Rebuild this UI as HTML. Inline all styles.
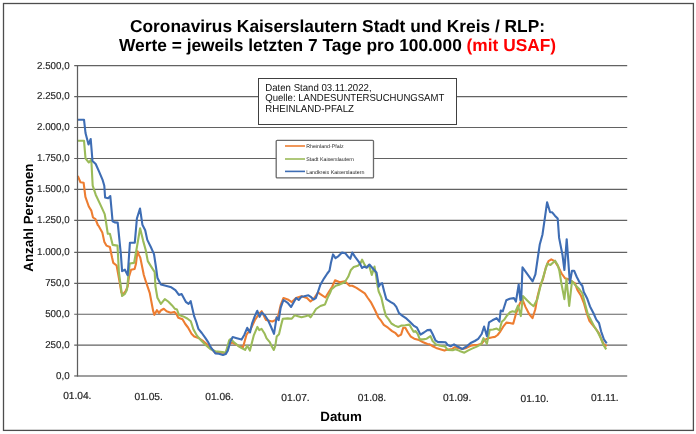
<!DOCTYPE html>
<html><head><meta charset="utf-8"><title>Coronavirus Kaiserslautern</title>
<style>
html,body{margin:0;padding:0;background:#fff;}
body{width:696px;height:434px;overflow:hidden;}
svg{display:block;will-change:transform;}
text{font-family:"Liberation Sans",Arial,sans-serif;text-rendering:geometricPrecision;}
.t{font-size:17.33px;font-weight:bold;fill:#000;text-anchor:middle;}
.yl{font-size:10px;fill:#1e1e1e;stroke:#1e1e1e;stroke-width:0.15px;text-anchor:end;}
.xl{font-size:10.2px;fill:#222;stroke:#222;stroke-width:0.2px;text-anchor:middle;}
.g{stroke:#626262;stroke-width:1.2;}
.ax{font-size:13.33px;font-weight:bold;fill:#000;}
.info{font-size:10.1px;fill:#111;}
.lg{font-size:5.3px;fill:#262626;}
.s{fill:none;stroke-width:2.1;stroke-linejoin:round;stroke-linecap:butt;}
</style></head>
<body>
<svg width="696" height="434" viewBox="0 0 696 434">
<rect x="0" y="0" width="696" height="434" fill="#fff"/>
<rect x="3.5" y="3.5" width="689.9" height="426.9" fill="none" stroke="#4d4d4d" stroke-width="1.3"/>
<text x="337.5" y="31.8" class="t">Coronavirus Kaiserslautern Stadt und Kreis / RLP:</text>
<text x="337.6" y="50.9" class="t">Werte = jeweils letzten 7 Tage pro 100.000 <tspan fill="#ff0000">(mit USAF)</tspan></text>
<line x1="74.2" y1="65.67" x2="627.2" y2="65.67" class="g"/>
<text x="69.6" y="68.62" class="yl" textLength="32.6" lengthAdjust="spacingAndGlyphs">2.500,0</text>
<line x1="74.2" y1="96.54" x2="627.2" y2="96.54" class="g"/>
<text x="69.6" y="99.49" class="yl" textLength="32.6" lengthAdjust="spacingAndGlyphs">2.250,0</text>
<line x1="74.2" y1="127.50" x2="627.2" y2="127.50" class="g"/>
<text x="69.6" y="130.45" class="yl" textLength="32.6" lengthAdjust="spacingAndGlyphs">2.000,0</text>
<line x1="74.2" y1="158.50" x2="627.2" y2="158.50" class="g"/>
<text x="69.6" y="161.45" class="yl" textLength="32.6" lengthAdjust="spacingAndGlyphs">1.750,0</text>
<line x1="74.2" y1="189.43" x2="627.2" y2="189.43" class="g"/>
<text x="69.6" y="192.38" class="yl" textLength="32.6" lengthAdjust="spacingAndGlyphs">1.500,0</text>
<line x1="74.2" y1="220.43" x2="627.2" y2="220.43" class="g"/>
<text x="69.6" y="223.38" class="yl" textLength="32.6" lengthAdjust="spacingAndGlyphs">1.250,0</text>
<line x1="74.2" y1="252.30" x2="627.2" y2="252.30" class="g"/>
<text x="69.6" y="255.25" class="yl" textLength="32.6" lengthAdjust="spacingAndGlyphs">1.000,0</text>
<line x1="74.2" y1="283.30" x2="627.2" y2="283.30" class="g"/>
<text x="69.6" y="286.25" class="yl" textLength="24.45" lengthAdjust="spacingAndGlyphs">750,0</text>
<line x1="74.2" y1="314.27" x2="627.2" y2="314.27" class="g"/>
<text x="69.6" y="317.22" class="yl" textLength="24.45" lengthAdjust="spacingAndGlyphs">500,0</text>
<line x1="74.2" y1="345.12" x2="627.2" y2="345.12" class="g"/>
<text x="69.6" y="348.07" class="yl" textLength="24.45" lengthAdjust="spacingAndGlyphs">250,0</text>
<line x1="74.2" y1="375.95" x2="77.5" y2="375.95" class="g"/>
<text x="69.6" y="378.90" class="yl" textLength="13.6" lengthAdjust="spacingAndGlyphs">0,0</text>
<line x1="77" y1="375.95" x2="627.2" y2="375.95" stroke="#7f7f7f" stroke-width="1.5"/>
<text x="77.3" y="398.8" class="xl">01.04.</text>
<text x="148.7" y="399.6" class="xl">01.05.</text>
<text x="219.4" y="400.2" class="xl">01.06.</text>
<text x="295.5" y="400.6" class="xl">01.07.</text>
<text x="372" y="401" class="xl">01.08.</text>
<text x="457.2" y="401.3" class="xl">01.09.</text>
<text x="534.7" y="401.6" class="xl">01.10.</text>
<text x="604.9" y="401.2" class="xl">01.11.</text>
<text x="341" y="421.2" class="ax" text-anchor="middle">Datum</text>
<text transform="translate(33.3,217.6) rotate(-90)" class="ax" text-anchor="middle">Anzahl Personen</text>
<polyline class="s" stroke="#ED7D31" points="77.8,176 80.5,182.3 83.6,182.7 85.4,196.8 88.8,206.5 91.3,210.6 93,217.5 95.5,219.2 97.8,225 98.8,226.2 102.3,232.4 104.4,242.1 106.4,245.6 109.9,247 112,257.3 113.3,262.9 116.6,265.5 119.4,280.7 121.4,292.5 122.8,294.6 125.6,291.1 127.7,286.3 129,276.6 131.1,269.7 134.6,269 135.9,264.1 137.5,251.2 138.8,254.6 140.3,257.6 143.8,275 145.6,280.7 149.8,293.2 153.2,311.2 154.4,314.8 156.9,310.2 159,313 161.1,310.2 163.8,308.8 166.6,311.3 170.7,312.7 174.2,311.9 176.3,313.7 178.3,317.8 182.5,319.2 185.3,324 188,327.5 191.5,333.7 194.2,336.5 198.4,337.9 202.5,340.6 206.7,344.1 209.6,346.6 215.4,352.7 225.7,352.7 229.2,344.4 232,342.3 234.7,343.7 239.6,346.5 243,347.2 246.5,334.7 250.6,329.2 254.8,320.2 258.9,314 261.7,311.2 265,318.1 266.2,320.1 272.4,321.5 275.2,320.1 278,316.6 280.7,304.9 283.5,298 287.7,299.4 291.8,302.1 296,298 301.5,296.3 307,298 310.5,301.4 313.9,298.7 318.1,292.4 320,293.8 325.4,297.5 328.8,292 332.3,286.5 335,280.3 339.9,282.3 344.7,281.2 349.6,285.8 352.3,285.8 356.5,287.9 360.6,290.6 364.8,293.4 367.5,297.5 370.8,302.1 374.8,309.7 378.3,317.3 381.1,320.7 383.8,324.9 388,327.7 392.1,331.1 395.6,333.2 398.3,336.2 401.1,334.6 403.2,327.7 405.3,327.7 408,332.5 410.8,336.6 414.2,338.7 419.1,340.1 423.2,342.2 427.4,344 429.6,344.3 433.3,346.5 436.1,347.9 440.2,349.2 444.4,350.6 447.8,349.5 452,349 454.7,347.2 458.2,347.9 462.3,349 466.5,347.9 470.6,345.8 474.1,345.1 477.5,345.1 481.7,343.7 484.1,340.3 488.3,338.2 492.4,337.3 494.9,336.9 497.6,335 500.4,331.3 503.2,326.7 506.4,322.6 509.7,323 513.2,323.7 515.9,314 519.4,304.4 522.2,298.8 525.6,307.1 529.1,314 532.5,318.2 535.3,309.2 537.4,297 540.2,286 543,279 545.7,268 548.5,261.1 551.3,259.4 554.7,261.1 558.2,266.6 561.6,273.5 565.1,278.3 567.9,279 571.3,281.1 574.8,283.2 577.5,290.1 581,295.8 583.8,302.8 586.6,312.7 589.4,320.9 592.1,324.4 595.6,328.5 599,333.4 601.8,340.3 603.9,344.4 606.7,346.2"/>
<polyline class="s" stroke="#9BBB59" points="77.5,140.7 84,140.7 85.5,158.4 88.8,162.5 91.3,159.8 92.7,185.7 95.7,194.7 100.6,205.1 104.7,214.1 105.7,220 107.8,233.8 109.9,233.8 112.7,244.9 117.5,245.6 118.9,272.5 120,280.7 122.1,296 124.9,293.9 127,289.7 128.3,276.6 129.7,263.5 134.1,262.9 136.8,247.7 140.1,228.2 143.1,240.6 145.7,250 147.8,261.1 151.2,266.6 154.7,272.1 155.4,286 157.4,297.7 160.9,303.9 164.8,299.1 168.2,301.5 172.1,305.4 174.9,308.8 177,309.5 179,315 183.2,316.4 187.3,318.5 190.8,321.3 193.5,329.6 197,335.8 201.2,340.6 205.3,344.8 210.3,349 215.4,351.3 222.3,352 225.7,352.7 229.2,340.3 230.6,338.9 234,342.3 238.2,345.8 241.6,348.1 245.1,349.9 247.2,345.8 249.9,350.6 253.7,335.7 257.4,326.9 259.2,330.1 261.5,328.8 264.7,333.8 266.6,338.4 269.8,342.1 271.7,346.3 273.8,350 275.3,345.8 276.7,336.6 279,334.3 281.3,324.6 282.8,318.7 287.7,318.4 291.8,318.7 294.6,315.3 298,316.2 301.5,317.3 305.6,316.2 308.4,315.3 310.5,317.3 313.9,312.5 316,309 320.4,306 325,304.4 327.8,297.4 330,293 331.6,289.2 335.7,285.8 339.9,284.4 344.7,282.3 348.2,276.8 350.9,269.9 353.7,267.1 357.9,265.7 360.6,263 362.1,259.7 364.1,263.8 366.2,267.3 369,265.2 371.8,274.9 374.5,266.6 375.9,274.2 377.3,284.6 378.7,291.5 381.4,297.7 382.8,303.9 383.8,308.3 385.9,315.9 388.7,319.4 391.4,323.5 394.9,325.6 398.3,327 401.1,325.6 405.3,325.3 409.4,324.6 411.5,328.3 413.6,331.8 415.6,331.1 417.7,333.9 419.8,339.4 423.2,339.4 426.7,338.7 430.5,336.1 432.6,341 436.1,344.4 440.2,345.8 445,346.5 447.8,349.9 452.7,350.3 455.4,349.2 459.6,350.9 464.4,352.7 467.9,350.6 472,348.6 476.2,346.9 481,344.4 483.5,338.2 486.9,343.8 489.7,329.9 493,329.5 496.7,328.6 499.5,330.3 501.8,321.8 504.1,319.8 506.9,315.7 510,312.2 512.5,311.3 515.3,312 518,305.7 520.8,316.1 522.9,296.1 527,300.2 530.5,303.7 533.6,306.2 537.4,299.1 540.2,287.3 543,277.7 547.2,263.7 550.5,264.9 555.1,260.7 557.9,265.6 559.4,271 561.6,284.6 564.4,299.1 566.5,279 569.2,306 572,281.1 575.5,285.3 578.9,288.7 582.4,293.5 585.2,304.4 588,314.7 590.7,319.6 594.2,326.5 597.7,332 601.1,338.9 603.2,344.4 606.2,349.4"/>
<polyline class="s" stroke="#3e6db4" points="77.5,119.7 84,119.7 85.5,133 88.5,144.5 90.7,139 92.5,161 95.7,164 99.2,171.9 102.7,180.2 104.3,185.7 105.1,197.5 108.2,198.2 110.3,196.1 112.6,221.4 114.6,222.4 117.7,222.6 120.9,254.6 122.1,271.1 124.9,269.7 127.7,275.2 129.9,242.8 134.8,242.7 136.9,218.5 140,208.5 142.4,224.7 145.2,230.3 147.3,239.9 150.7,246.8 154,254.1 156.1,268 157.4,277.7 160.9,284.6 165.7,285.7 171.3,287.3 175.4,290.1 178.9,294.9 181.6,294 185.8,301.8 188.6,303.9 190.7,301.2 194.2,316.4 196.3,322 198.4,328.9 201.8,333 205.3,337.9 207.8,341.6 211.2,347.9 215.4,353.4 218.8,353.7 223,355 225.7,354.1 227.8,350.6 230.6,341 232.7,337.1 236.8,338.2 241.6,339.6 244.4,334.7 247.2,327.8 250,332.4 252,323.7 254.8,316.1 257.3,310.8 259.6,316.8 261.7,312.6 264.8,315.3 268.3,320.8 271.1,327 274,333.8 276.6,317.3 278.7,320.1 280.7,307.7 283.5,300 287.7,302.8 291.1,307 293.9,302.1 296.2,298 298.7,300 301.5,296.6 304.2,296.3 308.4,295.3 311.2,297.2 313.5,299.5 315.8,298.1 317.6,293 320.4,284.7 324.1,278.3 327.3,273.5 329.5,270.6 330.9,263 333,254.4 335.5,258.1 338.5,256.1 342,252.6 345.4,253.3 348.2,256.8 350.3,258.8 352.3,252.6 355.1,256.8 359.2,262.3 362.1,268 364.1,266.6 366.9,267.7 369.4,264.5 372.4,268 376.6,272.8 378,281.1 378.7,286.6 380.5,283.9 382.1,283.2 384.2,291.5 386.3,299.1 390.4,301.8 393.9,303.9 396.3,306.9 399,313.1 402.5,315.9 406.6,318.7 410.1,322.1 413.6,325.6 417,327.7 420.5,334.6 423.9,332.5 427.4,330.1 430.5,329.9 432.6,334 435.4,340.3 438.1,342.1 441.6,342.1 445.7,342.3 447.8,345.1 450.6,346.2 454,344.4 457.5,346.5 462.3,349 466.5,346.5 470.6,343 474.8,341 478.2,338.9 481.7,334 484.1,326.5 486.9,336.2 489,322.3 492.4,320.3 496.6,318.2 499.4,321.6 500.7,310.6 502.8,311.3 506.3,300.2 509.7,298.8 513.9,298.1 515.9,301.6 518.7,284.5 520.4,300.2 521.2,299.6 522.5,267.4 532.6,281.3 535.4,274.4 538.2,255 539.7,244.8 542.5,234.4 544.6,219.9 547.1,202.2 550.1,212.3 552.2,212.3 554.9,215.7 557.7,218.5 559.1,237.9 562.5,255 564.4,270 566.7,239.2 569.9,283.2 572,270.7 574.1,270.7 576.8,277 579.6,282.5 582.4,286 583.8,291.9 587.3,298.8 590,306.4 593.5,313.3 596.3,319.6 599,323 601.1,331.3 603.9,339.3 606.7,343.4"/>
<line x1="77.5" y1="65" x2="77.5" y2="376.5" stroke="#5e5e5e" stroke-width="1.25"/>
<rect x="258.5" y="78.5" width="198" height="46" fill="#fff" stroke="#404040" stroke-width="1"/>
<text class="info" x="265.3" y="90.6" textLength="106.3" lengthAdjust="spacingAndGlyphs">Daten Stand 03.11.2022,</text>
<text class="info" x="265.3" y="101" textLength="179" lengthAdjust="spacingAndGlyphs">Quelle: LANDESUNTERSUCHUNGSAMT</text>
<text class="info" x="265.3" y="111.6" textLength="88.7" lengthAdjust="spacingAndGlyphs">RHEINLAND-PFALZ</text>
<rect x="276.2" y="140.3" width="97.3" height="37.6" rx="1" fill="#fff" stroke="#6a6a6a" stroke-width="1.3"/>
<line x1="285" y1="146" x2="305" y2="146" stroke="#ED7D31" stroke-width="1.6"/>
<line x1="285" y1="159" x2="305" y2="159" stroke="#9BBB59" stroke-width="1.6"/>
<line x1="285" y1="171.4" x2="305" y2="171.4" stroke="#3e6db4" stroke-width="1.6"/>
<text x="306.2" y="148.2" class="lg">Rheinland-Pfalz</text>
<text x="306.2" y="160.8" class="lg">Stadt Kaiserslautern</text>
<text x="306.2" y="173.7" class="lg">Landkreis Kaiserslautern</text>
</svg>
</body></html>
